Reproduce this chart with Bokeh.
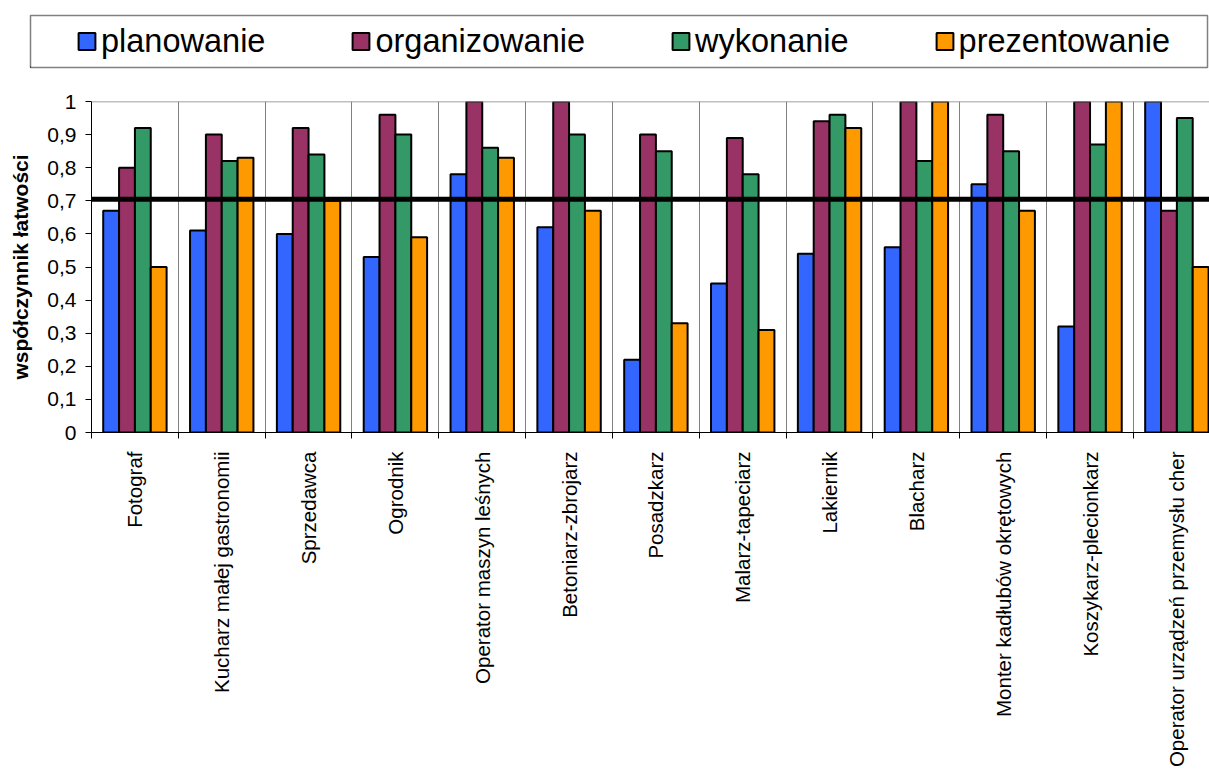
import math
from bokeh.plotting import figure
from bokeh.models import (Range1d, FixedTicker, Span, Legend, LegendItem)
from bokeh.embed import file_html
from bokeh.resources import INLINE

categories = ["Fotograf", "Kucharz małej gastronomii", "Sprzedawca", "Ogrodnik",
              "Operator maszyn leśnych", "Betoniarz-zbrojarz", "Posadzkarz",
              "Malarz-tapeciarz", "Lakiernik", "Blacharz",
              "Monter kadłubów okrętowych", "Koszykarz-plecionkarz",
              "Operator urządzeń przemysłu cher"]
series_names = ["planowanie", "organizowanie", "wykonanie", "prezentowanie"]
planowanie = [0.67, 0.61, 0.60, 0.53, 0.78, 0.62, 0.22, 0.45, 0.54, 0.56, 0.75, 0.32, 1.00]
organizowanie = [0.80, 0.90, 0.92, 0.96, 1.00, 1.00, 0.90, 0.89, 0.94, 1.00, 0.96, 1.00, 0.67]
wykonanie = [0.92, 0.82, 0.84, 0.90, 0.86, 0.90, 0.85, 0.78, 0.96, 0.82, 0.85, 0.87, 0.95]
prezentowanie = [0.50, 0.83, 0.70, 0.59, 0.83, 0.67, 0.33, 0.31, 0.92, 1.00, 0.67, 1.00, 0.50]
threshold = 0.705
y_ticks = [0, 0.1, 0.2, 0.3, 0.4, 0.5, 0.6, 0.7, 0.8, 0.9, 1.0]
y_tick_labels = ["0", "0,1", "0,2", "0,3", "0,4", "0,5", "0,6", "0,7", "0,8", "0,9", "1"]
y_title = "współczynnik łatwości"

colors = ["#3366FF", "#993366", "#339966", "#FF9900"]
series = [planowanie, organizowanie, wykonanie, prezentowanie]
FONT = "Liberation Sans"

# ---------- legend strip (separate root, so frames are not aligned) ----------
LEG_H = 78
leg = figure(width=1209, height=LEG_H, x_range=(0, 1), y_range=(0, 1),
             toolbar_location=None, output_backend="svg",
             min_border_left=30, min_border_right=2, min_border_top=15, min_border_bottom=11)
leg.axis.visible = False
leg.grid.visible = False
leg.outline_line_color = "#808080"
leg.outline_line_width = 1.5
leg.background_fill_color = "white"
leg.border_fill_color = "white"
items = []
for name, col in zip(series_names, colors):
    # legend swatch only: the single row lies outside the visible range
    r = leg.vbar(x=[-10], top=[0], width=0.1, fill_color=col, line_color="black", line_width=2)
    items.append(LegendItem(label=name, renderers=[r]))
legend = Legend(items=items, orientation="horizontal", location="left",
                margin=46, padding=0, spacing=85, label_standoff=4,
                glyph_width=21, glyph_height=21,
                label_text_font=FONT, label_text_font_size="32.5px", label_text_color="black",
                border_line_color=None, background_fill_alpha=0)
leg.add_layout(legend, "center")

# ---------- main chart ----------
n = len(categories)
FRAME_H = 333
CAT_W = 86.83
MAIN_H = 692
p = figure(width=1209, height=MAIN_H, toolbar_location=None, output_backend="svg",
           x_range=Range1d(-0.5, -0.5 + (1209 - 91) / CAT_W), y_range=Range1d(0, 1),
           min_border_left=91, min_border_right=0, min_border_top=101 - LEG_H,
           min_border_bottom=MAIN_H - (101 - LEG_H) - FRAME_H)
p.background_fill_color = "white"
p.border_fill_color = "white"
p.outline_line_color = None

centers = list(range(n))
boundaries = [i - 0.5 for i in range(n + 1)]

bw = 0.1825
offsets = [-1.5 * bw, -0.5 * bw, 0.5 * bw, 1.5 * bw]
for vals, col, off in zip(series, colors, offsets):
    p.vbar(x=[c + off for c in centers], top=vals, bottom=0, width=bw,
           fill_color=col, line_color="black", line_width=2)

p.add_layout(Span(location=1.0, dimension="width", line_color="#808080", line_width=1.5))
p.add_layout(Span(location=threshold, dimension="width", line_color="black", line_width=5))

# x axis
xa = p.xaxis[0]
xa.ticker = FixedTicker(ticks=centers, minor_ticks=boundaries)
xa.major_label_overrides = {c: lab for c, lab in zip(centers, categories)}
xa.major_label_orientation = math.pi / 2
xa.major_tick_out = 0
xa.major_tick_in = 0
xa.minor_tick_out = 6
xa.minor_tick_in = 0
xa.minor_tick_line_color = "black"
xa.axis_line_color = "black"
xa.major_label_standoff = 13
xa.major_label_text_font = FONT
xa.major_label_text_font_size = "20.5px"
xa.major_label_text_color = "black"

p.xgrid.grid_line_color = None
p.xgrid.minor_grid_line_color = "#808080"
p.xgrid.minor_grid_line_width = 1

# y axis
ya = p.yaxis[0]
ya.ticker = FixedTicker(ticks=y_ticks, minor_ticks=[])
ya.major_label_overrides = {t: l for t, l in zip(y_ticks, y_tick_labels)}
ya.major_tick_out = 6
ya.major_tick_in = 0
ya.major_tick_line_color = "black"
ya.axis_line_color = "black"
ya.major_label_standoff = 9
ya.major_label_text_font = FONT
ya.major_label_text_font_size = "21px"
ya.major_label_text_color = "black"
ya.axis_label = y_title
ya.axis_label_text_font = FONT
ya.axis_label_text_font_size = "21px"
ya.axis_label_text_font_style = "bold"
ya.axis_label_text_color = "black"
ya.axis_label_standoff = 12
p.ygrid.grid_line_color = None

open("out.html", "w").write(file_html([leg, p], INLINE))
